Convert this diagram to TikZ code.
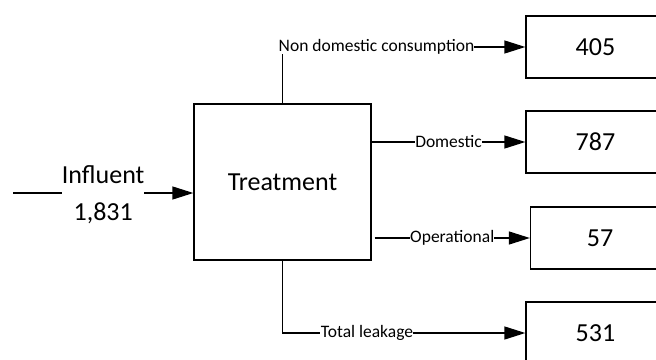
\documentclass[tikz,border=0pt]{standalone}
\usepackage{fontspec}
\setmainfont{Carlito}
\usetikzlibrary{arrows.meta}
\tikzset{
  big/.style={font=\fontsize{26}{37}\selectfont},
  small/.style={font=\fontsize{17.5}{20}\selectfont},
  valbox/.style={draw, line width=1.3pt, minimum width=139pt, minimum height=62pt, inner sep=0pt, big},
  flow/.style={line width=1.3pt, -{Triangle[length=21pt,width=13pt]}},
  plain/.style={line width=1.3pt},
  lbl/.style={small, fill=white, inner sep=0pt},
}
\begin{document}
\begin{tikzpicture}[x=1pt,y=-1pt]
\useasboundingbox (0,0) rectangle (656,359);
\clip (0,0) rectangle (656,359);
\fill[white] (0,0) rectangle (656,359);
% main box
\node[draw, line width=1.3pt, minimum width=177pt, minimum height=156pt, inner sep=0pt, big] (T) at (282.5,182) {Treatment};
% output boxes
\node[valbox] (b405) at (595.5,47) {405};
\node[valbox] (b787) at (595.5,142) {787};
\node[valbox] (b57) at (600,238) {57};
\node[valbox] (b531) at (595.5,333) {531};
% influent
\coordinate (src) at (13,193);
\draw[flow] (src) -- node[big, fill=white, inner sep=0pt, align=center, yshift=-2pt] {Influent\\1,831} (src -| T.west);
% non domestic
\node[lbl] (nd) at (376.5,47) {Non domestic consumption};
\draw[plain] (T.north) -- ([yshift=1pt]T.north |- nd.south);
\draw[flow] (nd.east) -- (b405.west);
% domestic
\draw[flow] (T.east |- b787.west) -- node[lbl] {Domestic} (b787.west);
% operational
\draw[flow] ([xshift=3pt]T.east |- b57.west) -- node[lbl] {Operational} (b57.west);
% total leakage
\node[lbl] (tl) at (367,333) {Total leakage};
\draw[plain] (T.south) |- ([xshift=-1pt]tl.west);
\draw[flow] (tl.east) -- (b531.west);
\end{tikzpicture}
\end{document}
